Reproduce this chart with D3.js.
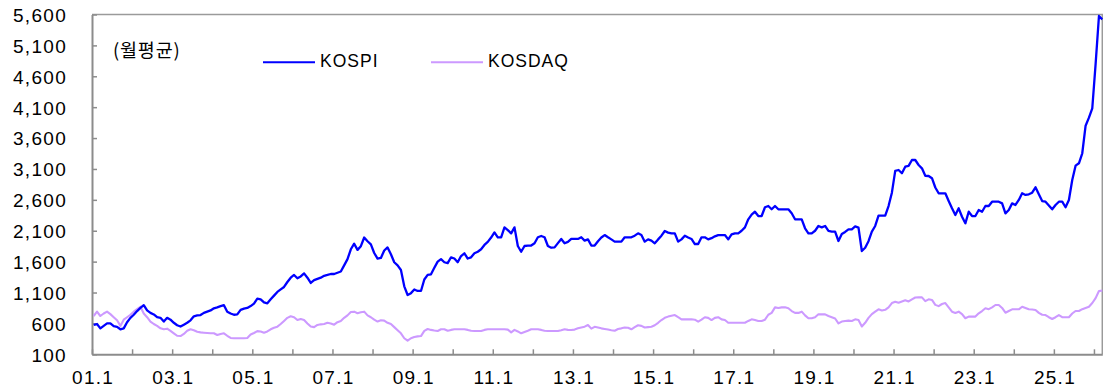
<!DOCTYPE html>
<html>
<head>
<meta charset="utf-8">
<script src="https://cdn.jsdelivr.net/npm/d3@7"></script>
<style>
  html, body { margin: 0; padding: 0; background: #fff; }
  svg { display: block; }
</style>
</head>
<body>
<svg id="chart" width="1103" height="391"></svg>
<script>
// ---------------- data (monthly averages, Jan 2001 – Mar 2026) ----------------
const startYear = 2001;
const seriesNames = ["KOSPI", "KOSDAQ"];
const unitLabel = "(월평균)";
const yTickValues = [100, 600, 1100, 1600, 2100, 2600, 3100, 3600, 4100, 4600, 5100, 5600];

const kospi = [
  // 2001
  575, 590, 520, 560, 600, 600, 555, 545, 505, 520, 620, 690,
  // 2002
  740, 800, 850, 895, 810, 770, 745, 700, 690, 630, 690, 660,
  // 2003
  610, 570, 550, 580, 610, 650, 715, 730, 735, 770, 790, 810,
  // 2004
  845, 860, 880, 895, 790, 760, 740, 745, 820, 840, 850, 880,
  // 2005
  920, 1000, 990, 940, 925, 990, 1050, 1110, 1150, 1190, 1270, 1340,
  // 2006
  1384, 1330, 1360, 1410, 1340, 1255, 1300, 1320, 1340, 1370, 1384, 1400,
  // 2007
  1400, 1420, 1440, 1540, 1640, 1800, 1890, 1790, 1850, 1990, 1930, 1880,
  // 2008
  1740, 1650, 1660, 1780, 1830, 1720, 1590, 1540, 1465, 1200, 1060, 1090,
  // 2009
  1150, 1125, 1125, 1310, 1385, 1395, 1500, 1600, 1640, 1590, 1575, 1670,
  // 2010
  1650, 1590, 1690, 1735, 1650, 1670, 1735, 1760, 1800, 1870, 1920, 1990,
  // 2011
  2074, 1994, 1994, 2155, 2110, 2058, 2155, 1853, 1760, 1853, 1860, 1860,
  // 2012
  1897, 1994, 2015, 1994, 1853, 1825, 1830, 1900, 1967, 1897, 1920, 1967,
  // 2013
  1967, 1967, 1994, 1940, 1960, 1860, 1860, 1930, 1990, 2030, 1994, 1960,
  // 2014
  1923, 1923, 1923, 1994, 1994, 1994, 2020, 2058, 2030, 1923, 1960, 1940,
  // 2015
  1897, 1960, 2020, 2096, 2070, 2058, 2058, 1923, 1960, 2020, 1990, 1967,
  // 2016
  1885, 1885, 1994, 1994, 1960, 1980, 2010, 2030, 2030, 2030, 1960, 2040,
  // 2017
  2058, 2058, 2100, 2155, 2285, 2360, 2408, 2338, 2338, 2480, 2500, 2447,
  // 2018
  2500, 2447, 2447, 2447, 2447, 2382, 2285, 2285, 2285, 2140, 2058, 2058,
  // 2019
  2100, 2177, 2155, 2177, 2096, 2085, 2085, 1934, 2047, 2080, 2123, 2123,
  // 2020
  2170, 2150, 1772, 1825, 1930, 2085, 2177, 2344, 2344, 2344, 2500, 2716,
  // 2021
  3070, 3083, 3030, 3137, 3150, 3245, 3245, 3164, 3110, 2990, 2986, 2950,
  // 2022
  2800, 2706, 2706, 2706, 2581, 2463, 2355, 2463, 2327, 2220, 2408, 2338,
  // 2023
  2338, 2436, 2408, 2500, 2500, 2570, 2570, 2570, 2543, 2382, 2436, 2543,
  // 2024
  2517, 2598, 2706, 2679, 2690, 2716, 2803, 2690, 2581, 2570, 2510, 2447,
  // 2025
  2517, 2570, 2570, 2480, 2598, 2921, 3153, 3192, 3354, 3800, 3930, 4082,
  // 2026
  4800, 5576, 5522
];

const kosdaq = [
  // 2001
  720, 790, 720, 760, 790, 750, 700, 650, 560, 660, 700, 740,
  // 2002
  790, 830, 870, 760, 700, 630, 590, 560, 520, 505, 515, 480,
  // 2003
  440, 400, 395, 430, 480, 505, 490, 466, 455, 450, 445, 440,
  // 2004
  440, 412, 430, 440, 400, 365, 360, 360, 360, 360, 365, 420,
  // 2005
  445, 475, 470, 450, 470, 505, 530, 547, 590, 640, 690, 715,
  // 2006
  700, 655, 670, 655, 600, 550, 540, 575, 585, 590, 610, 600,
  // 2007
  580, 620, 640, 690, 730, 785, 790, 765, 780, 790, 730, 700,
  // 2008
  660, 630, 650, 645, 610, 590, 540, 490, 440, 360, 320, 360,
  // 2009
  380, 390, 395, 480, 510, 495, 485, 477, 505, 505, 480, 495,
  // 2010
  505, 505, 505, 505, 495, 480, 477, 477, 477, 495, 505, 505,
  // 2011
  505, 505, 505, 505, 500, 455, 495, 470, 440, 460, 480, 505,
  // 2012
  505, 505, 495, 482, 478, 478, 477, 477, 490, 505, 495, 493,
  // 2013
  500, 520, 535, 547, 575, 515, 545, 535, 520, 510, 500, 490,
  // 2014
  482, 510, 520, 534, 530, 505, 540, 570, 560, 534, 540, 547,
  // 2015
  570, 610, 655, 690, 710, 725, 736, 700, 666, 666, 666, 666,
  // 2016
  660, 628, 660, 700, 690, 655, 690, 700, 665, 655, 611, 611,
  // 2017
  611, 611, 611, 611, 640, 666, 655, 639, 639, 660, 740, 770,
  // 2018
  860, 850, 860, 860, 845, 800, 770, 770, 790, 730, 683, 683,
  // 2019
  700, 747, 747, 747, 720, 700, 680, 600, 630, 640, 645, 640,
  // 2020
  666, 655, 550, 610, 690, 750, 790, 828, 810, 820, 860, 930,
  // 2021
  950, 935, 955, 975, 955, 990, 1020, 1022, 1022, 960, 990, 980,
  // 2022
  900, 880, 914, 930, 860, 790, 770, 790, 750, 683, 710, 710,
  // 2023
  710, 763, 800, 845, 830, 860, 898, 898, 850, 773, 800, 828,
  // 2024
  828, 828, 870, 850, 828, 825, 817, 770, 740, 736, 700, 671,
  // 2025
  700, 736, 700, 700, 700, 760, 801, 801, 830, 850, 870, 930,
  // 2026
  1010, 1125, 1130
];

// ---------------- layout ----------------
const W = 1103, H = 391;
const plot = { left: 92, right: 1102.3, top: 14.5, bottom: 354.3 };
const colors = { KOSPI: "#0000ff", KOSDAQ: "#cc99ff" };
const axisColor = "#8c8c8c";
const tickFont = "'Liberation Sans', Arial, sans-serif";

const svg = d3.select("#chart");
svg.append("rect").attr("width", W).attr("height", H).attr("fill", "#fff");

const n = kospi.length;
const x = d3.scaleLinear().domain([0, n - 0.5]).range([plot.left, plot.right]);
const y = d3.scaleLinear().domain([100, 5600]).range([plot.bottom, plot.top]);

// frame (top + right borders)
svg.append("path")
  .attr("d", `M${plot.left},${plot.top}H${plot.right}V${plot.bottom}`)
  .attr("fill", "none").attr("stroke", "#9a9a9a").attr("stroke-width", 1.5);

// y axis
const yAxis = d3.axisLeft(y)
  .tickValues(yTickValues)
  .tickFormat(d3.format(","))
  .tickSizeInner(-5).tickSizeOuter(0).tickPadding(25);
const gy = svg.append("g").attr("transform", `translate(${plot.left},0)`).call(yAxis);
gy.select(".domain").attr("stroke", axisColor).attr("stroke-width", 2);
gy.selectAll(".tick line").attr("stroke", axisColor).attr("stroke-width", 1.5);
gy.selectAll(".tick text")
  .attr("fill", "#000").attr("font-family", tickFont).attr("font-size", 19)
  .attr("letter-spacing", 1.3).attr("dy", "0.36em");

// x axis
const monthTicks = d3.range(0, n, 12);
const xAxis = d3.axisBottom(x)
  .tickValues(monthTicks)
  .tickFormat(m => {
    const k = m / 12;
    return k % 2 === 0 ? String((startYear + k) % 100).padStart(2, "0") + ".1" : "";
  })
  .tickSizeInner(-5).tickSizeOuter(0).tickPadding(16);
const gx = svg.append("g").attr("transform", `translate(0,${plot.bottom})`).call(xAxis);
gx.select(".domain").attr("stroke", axisColor).attr("stroke-width", 2);
gx.selectAll(".tick line").attr("stroke", axisColor).attr("stroke-width", 1.5);
gx.selectAll(".tick text")
  .attr("fill", "#000").attr("font-family", tickFont).attr("font-size", 19)
  .attr("letter-spacing", 1.3).attr("dx", "0.6");

// lines
const line = d3.line().x((d, i) => x(i + 0.5)).y(d => y(d));
svg.append("path").datum(kosdaq)
  .attr("d", line).attr("fill", "none")
  .attr("stroke", colors.KOSDAQ).attr("stroke-width", 2.1).attr("stroke-linejoin", "round");
svg.append("path").datum(kospi)
  .attr("d", line).attr("fill", "none")
  .attr("stroke", colors.KOSPI).attr("stroke-width", 2.3).attr("stroke-linejoin", "round");

// unit label
svg.append("text")
  .attr("x", 113).attr("y", 56.5)
  .attr("font-family", "'Noto Sans CJK KR', sans-serif").attr("font-size", 18.5)
  .attr("letter-spacing", 0.8)
  .text(unitLabel);

// legend
const legendItems = [
  { name: seriesNames[0], x1: 263, x2: 315, tx: 320 },
  { name: seriesNames[1], x1: 431, x2: 483, tx: 488 }
];
const lg = svg.append("g");
legendItems.forEach(it => {
  lg.append("line").attr("x1", it.x1).attr("x2", it.x2).attr("y1", 62.3).attr("y2", 62.3)
    .attr("stroke", colors[it.name]).attr("stroke-width", 2);
  lg.append("text").attr("x", it.tx).attr("y", 66.8)
    .attr("font-family", tickFont).attr("font-size", 17.5).attr("letter-spacing", 1)
    .text(it.name);
});
</script>
</body>
</html>
